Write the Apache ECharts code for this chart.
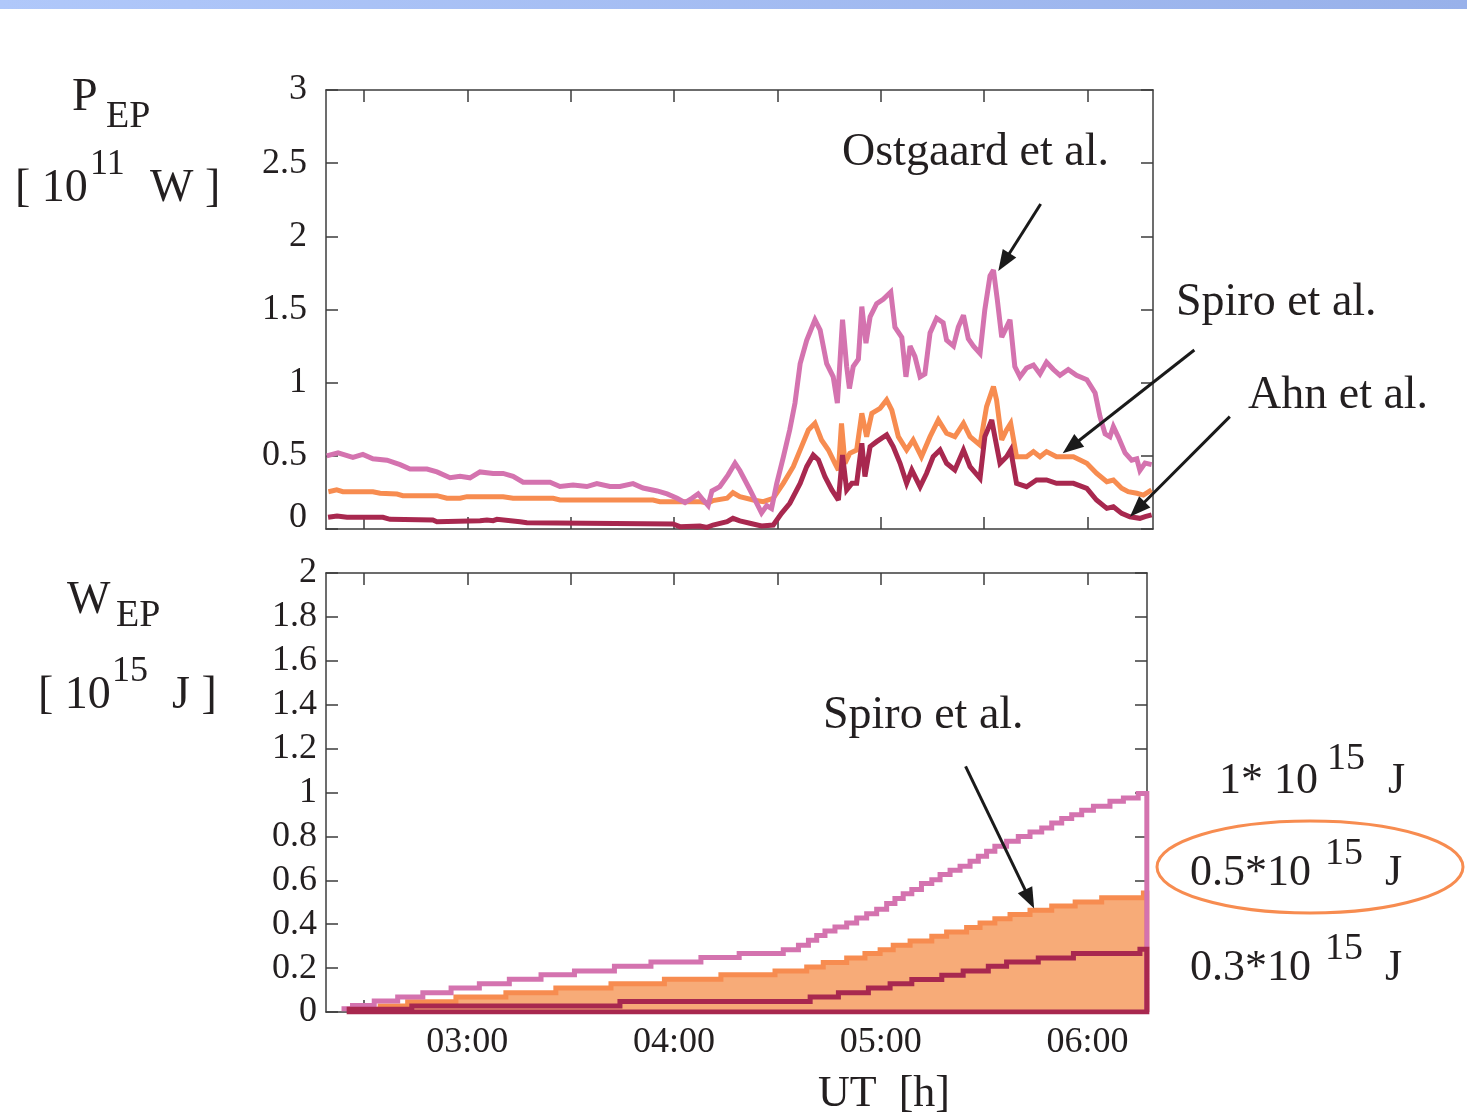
<!DOCTYPE html>
<html><head><meta charset="utf-8">
<script src="https://cdn.jsdelivr.net/npm/echarts@6/dist/echarts.min.js"></script>
<style>html,body{margin:0;padding:0;background:#fff}#c{width:1467px;height:1114px}</style>
</head><body><div id="c"></div>
<script>
// ---- time is minutes since 00:00 UT ----
const xTickMinutes = [150, 180, 210, 240, 270, 300, 330, 360];
const xLabelMinutes = [180, 240, 300, 360];
const xLabelTexts = ['03:00', '04:00', '05:00', '06:00'];

// ---- P_EP [10^11 W] ----
const ostgaardTime = [139.2,142.5,146.8,149.7,152.6,156.7,160.5,163.4,168.3,171.2,175.0,177.9,180.8,183.7,187.5,190.4,193.3,196.2,201.1,204.0,206.9,210.7,214.7,217.6,221.4,224.3,228.1,231.0,235.1,238.0,240.9,243.2,245.2,247.0,248.4,249.9,251.0,253.3,255.7,257.7,259.1,262.0,265.4,266.9,268.3,269.8,271.7,273.6,275.1,276.6,278.5,280.9,282.4,284.3,286.2,287.4,288.2,288.9,290.1,290.9,292.0,293.5,294.5,295.7,296.9,298.8,300.7,302.9,304.1,306.1,307.3,308.5,309.9,311.4,312.8,314.3,316.2,318.1,319.1,321.1,322.5,324.0,325.4,326.9,328.8,330.2,331.7,332.7,333.8,335.1,336.5,337.5,338.9,340.4,342.3,344.3,346.2,348.1,350.1,352.0,354.4,356.8,359.8,362.2,363.6,365.1,366.5,367.5,368.9,370.9,372.8,374.3,375.2,376.7,378.6];
const ostgaardPower = [0.50,0.52,0.49,0.51,0.48,0.47,0.44,0.41,0.41,0.39,0.35,0.36,0.35,0.39,0.38,0.38,0.36,0.32,0.32,0.32,0.29,0.30,0.29,0.31,0.29,0.29,0.31,0.28,0.26,0.24,0.21,0.18,0.21,0.24,0.20,0.16,0.26,0.29,0.37,0.45,0.40,0.27,0.11,0.16,0.14,0.31,0.49,0.68,0.86,1.13,1.29,1.43,1.36,1.13,1.04,0.86,1.16,1.43,1.11,0.96,1.11,1.16,1.52,1.27,1.45,1.54,1.57,1.62,1.38,1.31,1.04,1.25,1.18,1.04,1.06,1.34,1.44,1.41,1.29,1.25,1.38,1.46,1.30,1.25,1.20,1.50,1.73,1.77,1.57,1.31,1.38,1.43,1.11,1.04,1.10,1.12,1.06,1.14,1.09,1.05,1.09,1.05,1.02,0.93,0.77,0.65,0.63,0.70,0.63,0.52,0.47,0.48,0.40,0.45,0.44];

const spiroTime = [139.7,142.1,143.9,152.6,154.7,159.6,161.3,171.2,174.1,177.9,179.9,190.4,193.3,204.9,206.9,233.9,235.9,247.5,249.9,251.3,255.4,257.1,259.1,263.0,265.9,268.8,271.7,274.6,277.0,279.0,280.9,282.8,284.8,286.7,287.7,288.6,289.6,291.0,293.0,294.5,295.9,297.4,299.8,301.7,303.2,305.1,307.5,309.4,311.8,314.3,316.7,319.1,321.5,324.0,325.9,328.8,330.7,332.7,333.6,335.1,336.5,337.7,339.4,342.3,344.3,346.2,348.1,351.0,355.9,359.8,362.6,365.6,367.5,369.9,371.8,374.3,376.2,378.6];
const spiroPower = [0.255,0.267,0.255,0.255,0.244,0.239,0.228,0.228,0.210,0.210,0.221,0.221,0.210,0.210,0.198,0.198,0.187,0.187,0.176,0.194,0.210,0.248,0.221,0.198,0.187,0.210,0.312,0.426,0.563,0.677,0.722,0.608,0.540,0.449,0.403,0.722,0.449,0.517,0.540,0.791,0.631,0.791,0.825,0.882,0.813,0.631,0.540,0.608,0.494,0.631,0.745,0.654,0.631,0.722,0.631,0.574,0.836,0.973,0.882,0.608,0.677,0.722,0.494,0.494,0.529,0.494,0.529,0.494,0.494,0.449,0.381,0.323,0.335,0.278,0.255,0.244,0.232,0.267];

const ahnTime = [139.6,142.2,145.1,155.5,157.6,170.0,171.2,183.7,185.7,187.5,188.6,195.3,197.3,239.7,241.7,247.5,249.6,251.3,255.4,257.1,259.1,262.0,265.4,268.8,271.2,273.6,276.6,278.5,280.4,281.9,283.8,285.8,287.7,288.9,290.1,291.6,293.0,294.5,295.4,296.9,298.8,301.7,303.6,305.6,307.5,309.0,311.4,313.3,315.2,317.2,319.1,321.5,324.0,325.9,328.8,330.2,332.2,333.1,334.6,336.5,337.7,339.4,342.3,345.2,348.1,351.0,355.9,359.8,362.6,365.6,367.5,369.9,372.3,375.2,376.7,378.6];
const ahnPower = [0.080,0.089,0.080,0.080,0.066,0.062,0.050,0.057,0.062,0.057,0.066,0.050,0.043,0.034,0.016,0.021,0.011,0.027,0.050,0.073,0.055,0.039,0.021,0.027,0.107,0.176,0.312,0.426,0.506,0.472,0.358,0.267,0.198,0.506,0.267,0.312,0.312,0.586,0.358,0.563,0.597,0.643,0.563,0.449,0.312,0.403,0.289,0.381,0.494,0.540,0.449,0.403,0.540,0.426,0.346,0.631,0.745,0.631,0.449,0.494,0.540,0.312,0.289,0.335,0.335,0.312,0.312,0.278,0.198,0.141,0.152,0.107,0.084,0.073,0.084,0.096];

// ---- W_EP [10^15 J] (cumulative, stepped) ----
const energyEndTime = 377.2;
const ostgaardEnergyTime = [143.5,146.7,153.0,159.8,167.1,175.3,183.5,192.2,201.4,211.1,222.7,233.3,247.8,258.9,271.7,276.1,279.0,281.4,283.8,286.7,290.1,293.0,295.9,298.8,301.7,304.1,306.5,309.0,311.8,314.8,317.2,320.1,323.0,325.9,328.3,330.7,333.1,336.5,339.9,343.3,346.7,349.6,352.5,355.4,358.3,361.7,366.5,370.4,374.7];
const ostgaardEnergy = [0.015,0.030,0.050,0.068,0.088,0.109,0.129,0.149,0.170,0.187,0.208,0.228,0.248,0.266,0.284,0.304,0.327,0.349,0.369,0.387,0.405,0.428,0.448,0.468,0.494,0.517,0.539,0.558,0.585,0.603,0.626,0.646,0.664,0.687,0.709,0.732,0.755,0.778,0.800,0.820,0.838,0.861,0.881,0.899,0.919,0.937,0.960,0.975,0.995];
const spiroEnergyTime = [154.0,162.7,176.7,191.2,205.7,221.7,237.2,253.6,269.3,278.5,283.3,290.1,295.4,299.8,303.6,308.5,314.8,319.1,324.9,328.8,333.1,337.5,343.3,349.6,356.4,364.1,376.2];
const spiroEnergy = [0.027,0.047,0.068,0.088,0.109,0.129,0.149,0.170,0.187,0.205,0.225,0.246,0.266,0.284,0.304,0.324,0.345,0.364,0.385,0.405,0.425,0.444,0.463,0.483,0.501,0.521,0.542];
const ahnEnergyTime = [145.0,163.9,224.3,279.5,287.7,296.4,302.7,309.0,317.7,323.9,331.2,336.5,345.7,355.9,375.2];
const ahnEnergy = [0.012,0.027,0.048,0.068,0.088,0.109,0.129,0.148,0.167,0.187,0.208,0.228,0.246,0.266,0.286];

// ---- styling ----
const FONT = '"Liberation Serif", "Times New Roman", serif';
const TXT = '#231f20';
const AX = '#3c3c3c';
const C_PINK = '#d473af', C_ORANGE = '#f78c50', C_DARK = '#a8284f', C_FILL = '#f7ab78';
const LW = 5;

const zip = (t, v) => t.map((x, i) => [x, v[i]]);
const stepsToZero = (t, v) => zip(t, v).concat([[energyEndTime, 0]]);
const closedSteps = (t, v) => stepsToZero(t, v).concat([[t[0], 0]]);

function xFmt(v) { const i = xLabelMinutes.indexOf(Math.round(v)); return i >= 0 ? xLabelTexts[i] : ''; }

function xAx(grid, pos, max, showLabel) {
  return {
    type: 'value', gridIndex: grid, position: pos, min: 139, max: max,
    axisLine: { show: true, onZero: false, lineStyle: { color: AX, width: 1.5 } },
    axisTick: { show: true, inside: true, length: 12, customValues: xTickMinutes, lineStyle: { color: AX, width: 1.5 } },
    axisLabel: { show: showLabel, customValues: xLabelMinutes, formatter: xFmt, margin: 13, fontSize: 36, fontFamily: FONT, color: TXT },
    splitLine: { show: false }
  };
}
function yAx(grid, pos, max, interval, showLabel, margin, fmt, rich) {
  return {
    type: 'value', gridIndex: grid, position: pos, min: 0, max: max, interval: interval,
    axisLine: { show: true, onZero: false, lineStyle: { color: AX, width: 1.5 } },
    axisTick: { show: true, inside: true, length: 12, lineStyle: { color: AX, width: 1.5 } },
    axisLabel: { show: showLabel, margin: margin, fontSize: 36, fontFamily: FONT, color: TXT, formatter: fmt, rich: rich },
    splitLine: { show: false }
  };
}

const lineSeries = (name, x, y, data, color, extra) => Object.assign({
  type: 'line', name: name, xAxisIndex: x, yAxisIndex: y, data: data,
  showSymbol: false, symbol: 'none', lineStyle: { color: color, width: LW, join: 'miter', miterLimit: 3 }, itemStyle: { color: color },
  animation: false, silent: true
}, extra || {});

const option = {
  animation: false,
  textStyle: { fontFamily: FONT },
  grid: [
    { left: 326, top: 90, width: 827, height: 439 },
    { left: 326, top: 573, width: 821, height: 439 }
  ],
  xAxis: [
    xAx(0, 'bottom', 379, false),
    xAx(0, 'top', 379, false),
    xAx(1, 'bottom', 377.25, true),
    xAx(1, 'top', 377.25, false)
  ],
  yAxis: [
    yAx(0, 'left', 3, 0.5, true, 19, v => v === 0 ? '{z|0}' : String(v),
        { z: { fontSize: 36, fontFamily: FONT, color: TXT, padding: [0, 0, 22, 0] } }),
    yAx(0, 'right', 3, 0.5, false, 8),
    yAx(1, 'left', 2, 0.2, true, 9, v => String(Math.round(v * 10) / 10)),
    yAx(1, 'right', 2, 0.2, false, 8)
  ],
  series: [
    lineSeries('Spiro et al.', 0, 0, zip(spiroTime, spiroPower), C_ORANGE),
    lineSeries('Ostgaard et al.', 0, 0, zip(ostgaardTime, ostgaardPower), C_PINK),
    lineSeries('Ahn et al.', 0, 0, zip(ahnTime, ahnPower), C_DARK),
    lineSeries('Spiro et al. W', 2, 2, stepsToZero(spiroEnergyTime, spiroEnergy), C_ORANGE,
      { step: 'end', areaStyle: { color: C_FILL, opacity: 1 } }),
    lineSeries('Ostgaard et al. W', 2, 2, stepsToZero(ostgaardEnergyTime, ostgaardEnergy), C_PINK, { step: 'end' }),
    lineSeries('Ahn et al. W', 2, 2, closedSteps(ahnEnergyTime, ahnEnergy), C_DARK, { step: 'end' })
  ]
};

const chart = echarts.init(document.getElementById('c'), null, { renderer: 'canvas', width: 1467, height: 1114 });
chart.setOption(option);

// ---- annotations ----
const arrowsTop = [
  [[346.4, 2.221], [334.1, 1.763]],
  [[391.0, 1.2235], [352.8, 0.517]],
  [[401.3, 0.768], [372.3, 0.084]]
];
const arrowsBottom = [
  [[324.6, 1.119], [344.5, 0.471]]
];

function arrow(p0, p1) {
  const dx = p1[0] - p0[0], dy = p1[1] - p0[1], L = Math.hypot(dx, dy), ux = dx / L, uy = dy / L;
  const hl = 21, hw = 8;
  const bx = p1[0] - ux * hl, by = p1[1] - uy * hl;
  return [
    { type: 'line', z: 100, shape: { x1: p0[0], y1: p0[1], x2: bx + ux * 3, y2: by + uy * 3 }, style: { stroke: '#1a1a1a', lineWidth: 3 } },
    { type: 'polygon', z: 100, shape: { points: [[p1[0], p1[1]], [bx - uy * hw, by + ux * hw], [bx + uy * hw, by - ux * hw]] }, style: { fill: '#1a1a1a' } }
  ];
}
function txt(s, x, y, size) {
  return { type: 'text', z: 100, x: x, y: y,
    style: { text: s, font: size + 'px ' + FONT, fill: TXT, align: 'left', verticalAlign: 'middle', textAlign: 'left', textVerticalAlign: 'middle' } };
}

const g = [];
g.push({ type: 'rect', z: 100, shape: { x: 0, y: 0, width: 1467, height: 9 },
  style: { fill: new echarts.graphic.LinearGradient(0, 0, 1, 0, [{ offset: 0, color: '#b0c8fa' }, { offset: 1, color: '#98b1ea' }]) } });
arrowsTop.forEach(a => g.push(...arrow(chart.convertToPixel({ seriesIndex: 0 }, a[0]), chart.convertToPixel({ seriesIndex: 0 }, a[1]))));
arrowsBottom.forEach(a => g.push(...arrow(chart.convertToPixel({ seriesIndex: 3 }, a[0]), chart.convertToPixel({ seriesIndex: 3 }, a[1]))));

// series names
g.push(txt('Ostgaard et al.', 842, 153, 46));
g.push(txt('Spiro et al.', 1176, 303, 46));
g.push(txt('Ahn et al.', 1248, 396, 46));
g.push(txt('Spiro et al.', 823, 716, 46));
// axis titles
g.push(txt('P', 72, 98, 46));
g.push(txt('EP', 106, 117, 38));
g.push(txt('[ 10', 15, 189, 46));
g.push(txt('11', 90, 165, 36));
g.push(txt('W ]', 150, 189, 46));
g.push(txt('W', 67, 601, 46));
g.push(txt('EP', 116, 616, 38));
g.push(txt('[ 10', 38, 696, 46));
g.push(txt('15', 112, 672, 36));
g.push(txt('J ]', 172, 696, 46));
g.push(txt('UT  [h]', 818, 1094, 44));
// totals
g.push(txt('1* 10', 1219, 781, 44));
g.push(txt('15', 1327, 759, 38));
g.push(txt('J', 1388, 781, 44));
g.push(txt('0.5*10', 1190, 873, 44));
g.push(txt('15', 1325, 854, 38));
g.push(txt('J', 1385, 873, 44));
g.push(txt('0.3*10', 1190, 968, 44));
g.push(txt('15', 1325, 949, 38));
g.push(txt('J', 1385, 968, 44));
g.push({ type: 'ellipse', z: 100, shape: { cx: 1310, cy: 867, rx: 153, ry: 46 }, style: { fill: 'none', stroke: C_ORANGE, lineWidth: 3 } });

chart.setOption({ graphic: g });
</script>
</body></html>
